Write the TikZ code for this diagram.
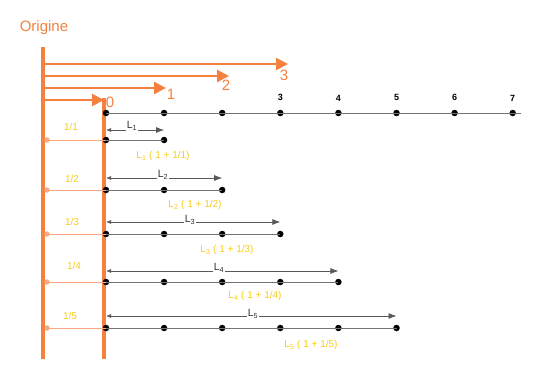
\documentclass[tikz,border=0pt]{standalone}
\usepackage{fontspec}
\setmainfont{Liberation Sans}
\usepackage{xcolor}
\usetikzlibrary{positioning, arrows.meta}

\definecolor{orig}{RGB}{246,128,62}
\definecolor{origlight}{RGB}{250,170,130}
\definecolor{gold}{RGB}{246,204,24}

\begin{document}
\begin{tikzpicture}[
  x=1pt, y=-1pt,
  axis/.style={draw=orig, line width=3.2pt},
  ray/.style={draw=orig, line width=2.6pt, -{Triangle[length=12pt, width=12pt]}},
  raylab/.style={text=orig, font=\fontsize{15}{15}\selectfont, inner sep=0pt},
  tick/.style={draw=origlight, line width=0.7pt},
  tickdot/.style={circle, fill=origlight, inner sep=0pt, minimum size=5.5pt},
  dot/.style={circle, fill=black, inner sep=0pt, minimum size=6.5pt},
  seg/.style={draw=black!55, line width=0.9pt},
  len/.style={draw=black!65, line width=0.7pt,
              {Latex[length=5pt, width=4pt]}-{Latex[length=8pt, width=6pt]}},
  lname/.style={fill=white, inner sep=1.2pt, font=\fontsize{10.5}{10}\selectfont, text=black!80},
  frac/.style={text=gold, font=\fontsize{10}{10}\selectfont},
  res/.style={text=gold, font=\fontsize{10}{10}\selectfont},
  num/.style={font=\bfseries\fontsize{9}{9}\selectfont}
]
\useasboundingbox (0,0) rectangle (549,370);

% the two vertical axes
\node[raylab] (orig) at (44,28) {Origine};
\coordinate (o-top) at (43,47);
\coordinate (o-bot) at (43,359);
\coordinate (z-top) at (104,98);
\coordinate (z-bot) at (104,359);
\draw[axis] (o-top) -- (o-bot);
\draw[axis] (z-top) -- (z-bot);

% orange rays 0..3
\coordinate (r0) at (104,100);
\coordinate (r1) at (166,88);
\coordinate (r2) at (229,76);
\coordinate (r3) at (288,64);
\draw[ray] (o-top |- r3) -- (r3);
\draw[ray] (o-top |- r2) -- (r2);
\draw[ray] (o-top |- r1) -- (r1);
\draw[ray] (o-top |- r0) -- (r0);
\node[raylab] (r3lab) at (284,75) {3};
\node[raylab] (r2lab) at (226,85) {2};
\node[raylab] (r1lab) at (171,94) {1};
\node[raylab] (r0lab) at (110,102) {0};

% top number line
\coordinate (top-end) at (521,113);
\foreach \k in {0,...,7} {
  \node[dot] (d0-\k) at ({106+58.1*\k},113) {};
}
\draw[seg] (d0-0.center) -- (top-end);
\foreach \k in {3,...,7} {
  \node[num, above=5pt of d0-\k] (n\k) {\k};
}

% rows 1/1 .. 1/5
\foreach \i/\ya/\yd in {1/130/140, 2/178/190, 3/222/234, 4/271/282, 5/316/328} {
  \foreach \k in {0,...,\i} {
    \node[dot] (d\i-\k) at ({106+58.1*\k},\yd) {};
  }
  \node[tickdot] (t\i) at (47,\yd) {};
  \draw[tick] (t\i.center) -- (d\i-0.center);
  \draw[seg] (d\i-0.center) -- (d\i-\i.center);
  \coordinate (a\i-s) at (106,\ya);
  \coordinate (a\i-e) at ({106+58.1*\i},\ya);
  \draw[len] (a\i-s) -- (a\i-e);
}

\node[lname] (l1) at (132,126) {L\textsubscript{1}};
\node[lname] (l2) at (163,175) {L\textsubscript{2}};
\node[lname] (l3) at (190,220) {L\textsubscript{3}};
\node[lname] (l4) at (219,268) {L\textsubscript{4}};
\node[lname] (l5) at (253,314) {L\textsubscript{5}};

\node[frac] (f1) at (71,127) {1/1};
\node[frac] (f2) at (72,179) {1/2};
\node[frac] (f3) at (72,222) {1/3};
\node[frac] (f4) at (74,266) {1/4};
\node[frac] (f5) at (70,316) {1/5};

\node[res] (e1) at (163,156) {L\textsubscript{1} ( 1 + 1/1)};
\node[res] (e2) at (195,205) {L\textsubscript{2} ( 1 + 1/2)};
\node[res] (e3) at (227,250) {L\textsubscript{3} ( 1 + 1/3)};
\node[res] (e4) at (255,296) {L\textsubscript{4} ( 1 + 1/4)};
\node[res] (e5) at (311,345) {L\textsubscript{5} ( 1 + 1/5)};
\end{tikzpicture}
\end{document}
